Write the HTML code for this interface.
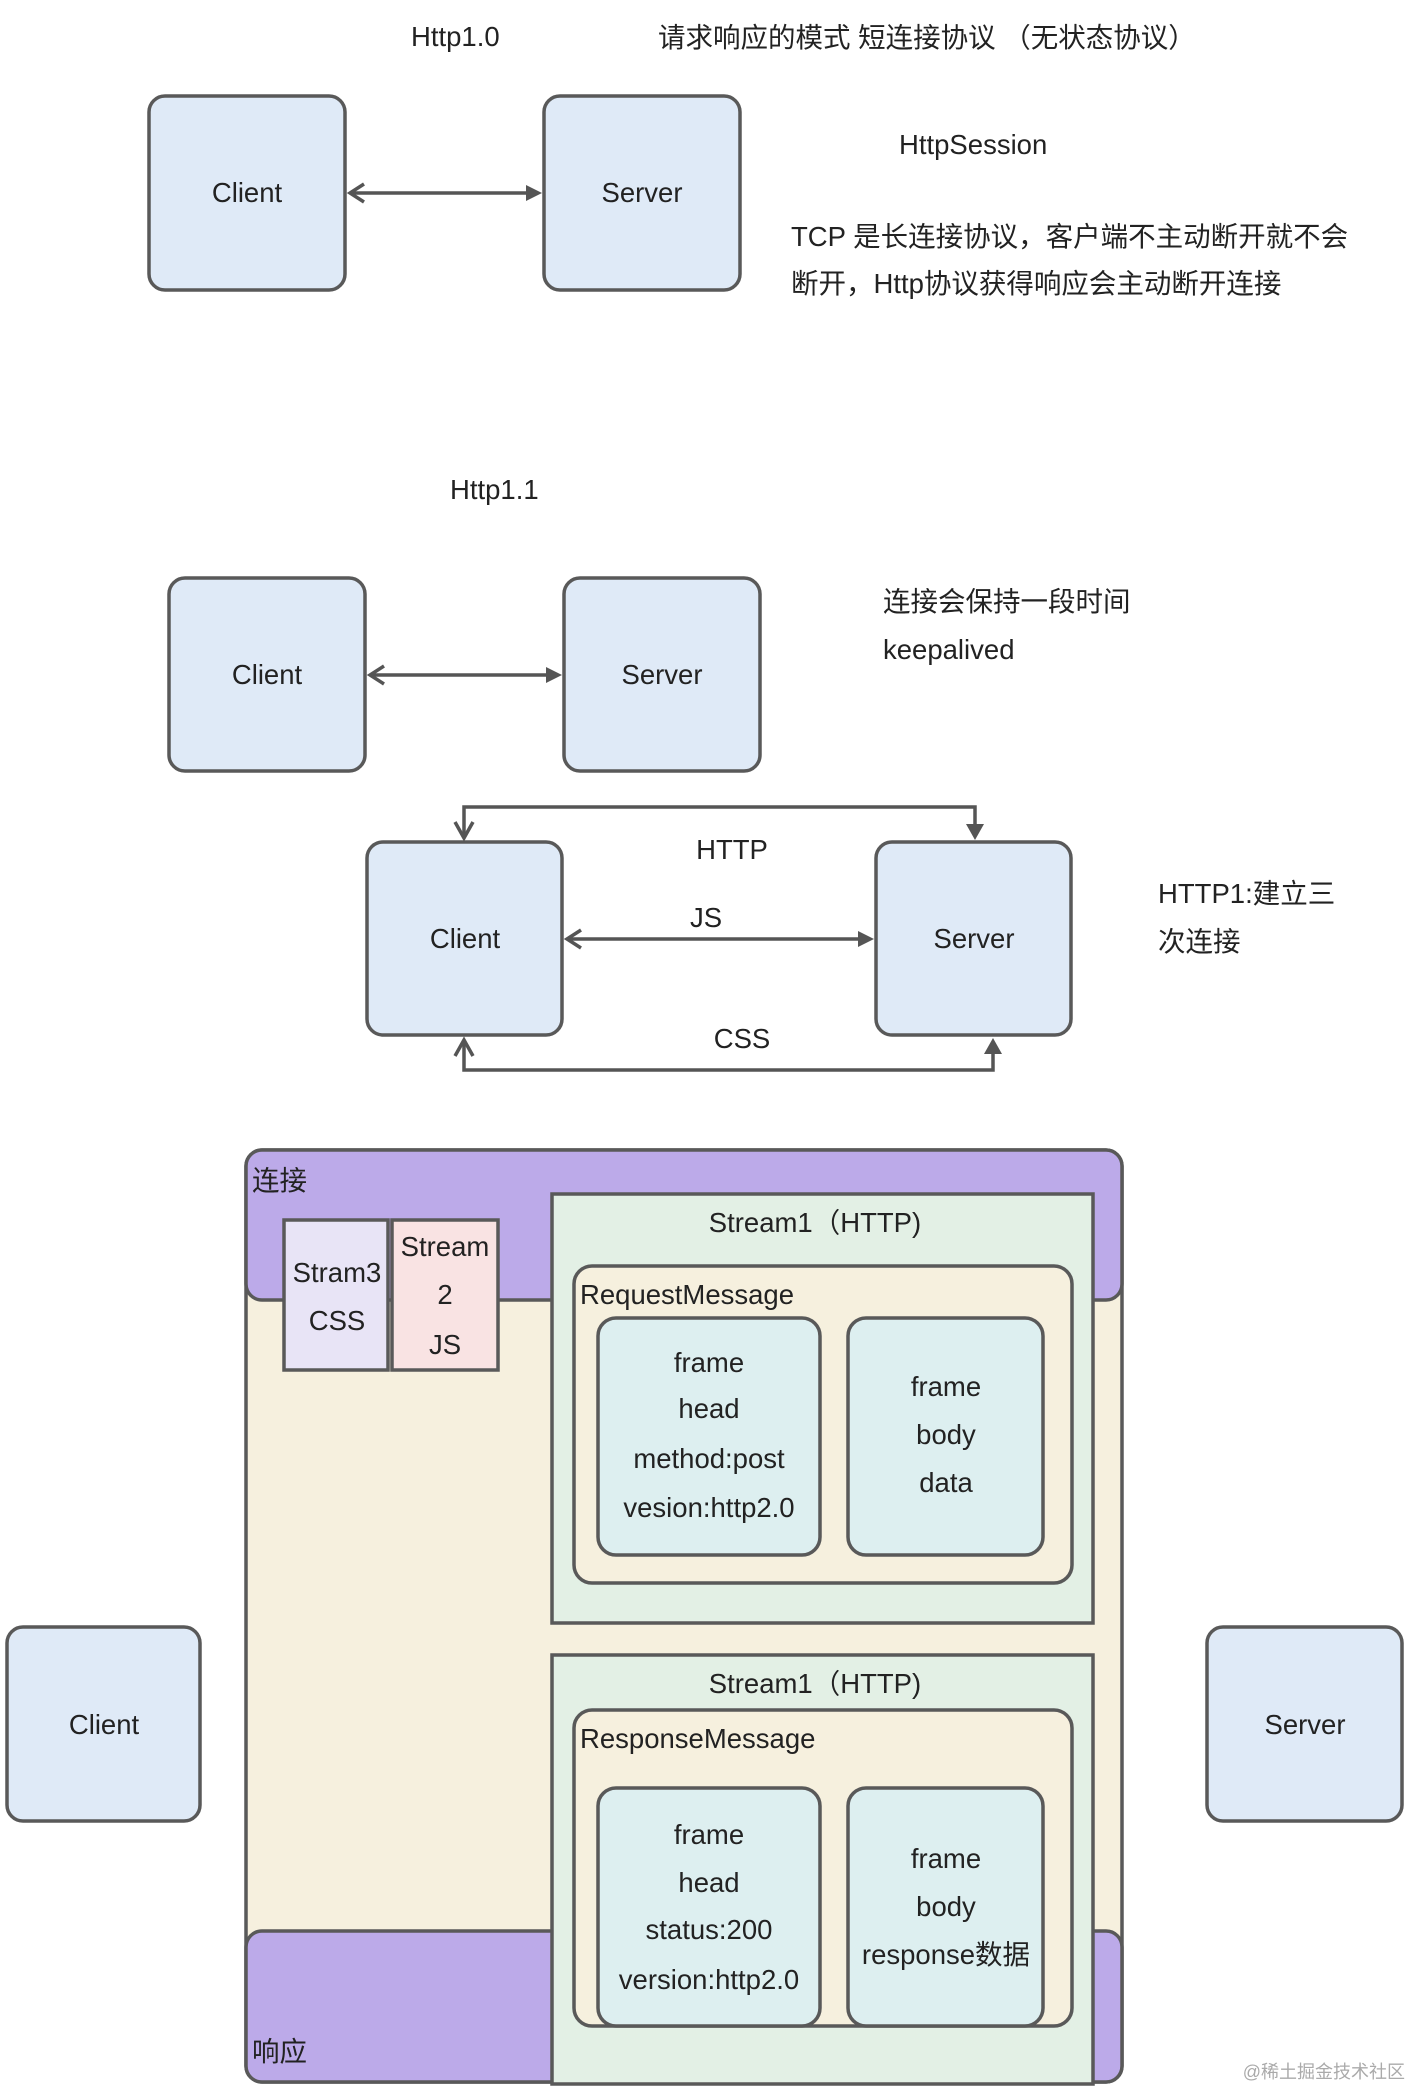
<!DOCTYPE html>
<html><head><meta charset="utf-8"><style>
html,body{margin:0;padding:0;background:#fff;}
svg{display:block;}
text{font-family:"Liberation Sans","Noto Sans CJK SC",sans-serif;fill:#222;font-size:27.5px;}
</style></head><body>
<svg width="1410" height="2087" viewBox="0 0 1410 2087" xmlns="http://www.w3.org/2000/svg">
<g stroke="#595959" stroke-width="3.5" fill="#dfeaf7">
<rect x="149" y="96" width="196" height="194" rx="16"/>
<rect x="544" y="96" width="196" height="194" rx="16"/>
<rect x="169" y="578" width="196" height="193" rx="16"/>
<rect x="564" y="578" width="196" height="193" rx="16"/>
<rect x="367" y="842" width="195" height="193" rx="16"/>
<rect x="876" y="842" width="195" height="193" rx="16"/>
<rect x="7" y="1627" width="193" height="194" rx="16"/>
<rect x="1207" y="1627" width="195" height="194" rx="16"/>
</g>
<g stroke="#555" stroke-width="3.5" fill="none">
<line x1="350" y1="193" x2="528" y2="193"/><path d="M364,184 L350,193 L364,202"/>
<line x1="370" y1="675" x2="548" y2="675"/><path d="M384,666 L370,675 L384,684"/>
<line x1="567" y1="939" x2="860" y2="939"/><path d="M581,930 L567,939 L581,948"/>
<path d="M464,838 L464,807 L975,807 L975,826" /><path d="M455,822 L464,838 L473,822"/>
<path d="M464,1040 L464,1070 L993,1070 L993,1052"/><path d="M455,1056 L464,1040 L473,1056"/>
</g>
<g fill="#555">
<polygon points="526,185 542,193 526,201"/>
<polygon points="546,667 562,675 546,683"/>
<polygon points="858,931 874,939 858,947"/>
<polygon points="966,824 975,840 984,824"/>
<polygon points="984,1054 993,1038 1002,1054"/>
</g>
<text x="411" y="46">Http1.0</text>
<text x="658" y="47">请求响应的模式 短连接协议 （无状态协议）</text>
<text x="247" y="202" text-anchor="middle">Client</text>
<text x="642" y="202" text-anchor="middle">Server</text>
<text x="899" y="154">HttpSession</text>
<text x="791" y="246">TCP 是长连接协议，客户端不主动断开就不会</text>
<text x="791" y="293">断开，Http协议获得响应会主动断开连接</text>
<text x="450" y="499">Http1.1</text>
<text x="267" y="684" text-anchor="middle">Client</text>
<text x="662" y="684" text-anchor="middle">Server</text>
<text x="883" y="611">连接会保持一段时间</text>
<text x="883" y="659">keepalived</text>
<text x="465" y="948" text-anchor="middle">Client</text>
<text x="974" y="948" text-anchor="middle">Server</text>
<text x="732" y="859" text-anchor="middle">HTTP</text>
<text x="706" y="927" text-anchor="middle">JS</text>
<text x="742" y="1048" text-anchor="middle">CSS</text>
<text x="1158" y="903">HTTP1:建立三</text>
<text x="1158" y="951">次连接</text>
<text x="104" y="1734" text-anchor="middle">Client</text>
<text x="1305" y="1734" text-anchor="middle">Server</text>
<g stroke="#595959" stroke-width="3.5">
<rect x="246" y="1150" width="876" height="932" rx="16" fill="#f6f0de"/>
<rect x="246" y="1150" width="876" height="150" rx="16" fill="#bcaae9"/>
<rect x="246" y="1931" width="876" height="151" rx="16" fill="#bcaae9"/>
<rect x="284" y="1220" width="104" height="150" fill="#e8e4f6"/>
<rect x="392" y="1220" width="106" height="150" fill="#f9e3e3"/>
<rect x="552" y="1194" width="541" height="429" fill="#e3f0e5"/>
<rect x="552" y="1655" width="541" height="429" fill="#e3f0e5"/>
<rect x="574" y="1266" width="498" height="317" rx="18" fill="#f6f0de"/>
<rect x="574" y="1710" width="498" height="316" rx="18" fill="#f6f0de"/>
<rect x="598" y="1318" width="222" height="237" rx="18" fill="#ddeff0"/>
<rect x="848" y="1318" width="195" height="237" rx="18" fill="#ddeff0"/>
<rect x="598" y="1788" width="222" height="238" rx="18" fill="#ddeff0"/>
<rect x="848" y="1788" width="195" height="238" rx="18" fill="#ddeff0"/>
</g>
<text x="252" y="1190">连接</text>
<text x="252" y="2061">响应</text>
<g text-anchor="middle">
<text x="337" y="1282">Stram3</text><text x="337" y="1330">CSS</text>
<text x="445" y="1256">Stream</text><text x="445" y="1304">2</text><text x="445" y="1354">JS</text>
<text x="815" y="1232">Stream1（HTTP)</text>
<text x="815" y="1693">Stream1（HTTP)</text>
<text x="709" y="1372">frame</text><text x="709" y="1418">head</text><text x="709" y="1468">method:post</text><text x="709" y="1517">vesion:http2.0</text>
<text x="946" y="1396">frame</text><text x="946" y="1444">body</text><text x="946" y="1492">data</text>
<text x="709" y="1844">frame</text><text x="709" y="1892">head</text><text x="709" y="1939">status:200</text><text x="709" y="1989">version:http2.0</text>
<text x="946" y="1868">frame</text><text x="946" y="1916">body</text><text x="946" y="1964">response数据</text>
</g>
<text x="580" y="1304">RequestMessage</text>
<text x="580" y="1748">ResponseMessage</text>
<text x="1405" y="2078" text-anchor="end" style="font-size:18px;fill:#aaa">@稀土掘金技术社区</text>
</svg>
</body></html>
